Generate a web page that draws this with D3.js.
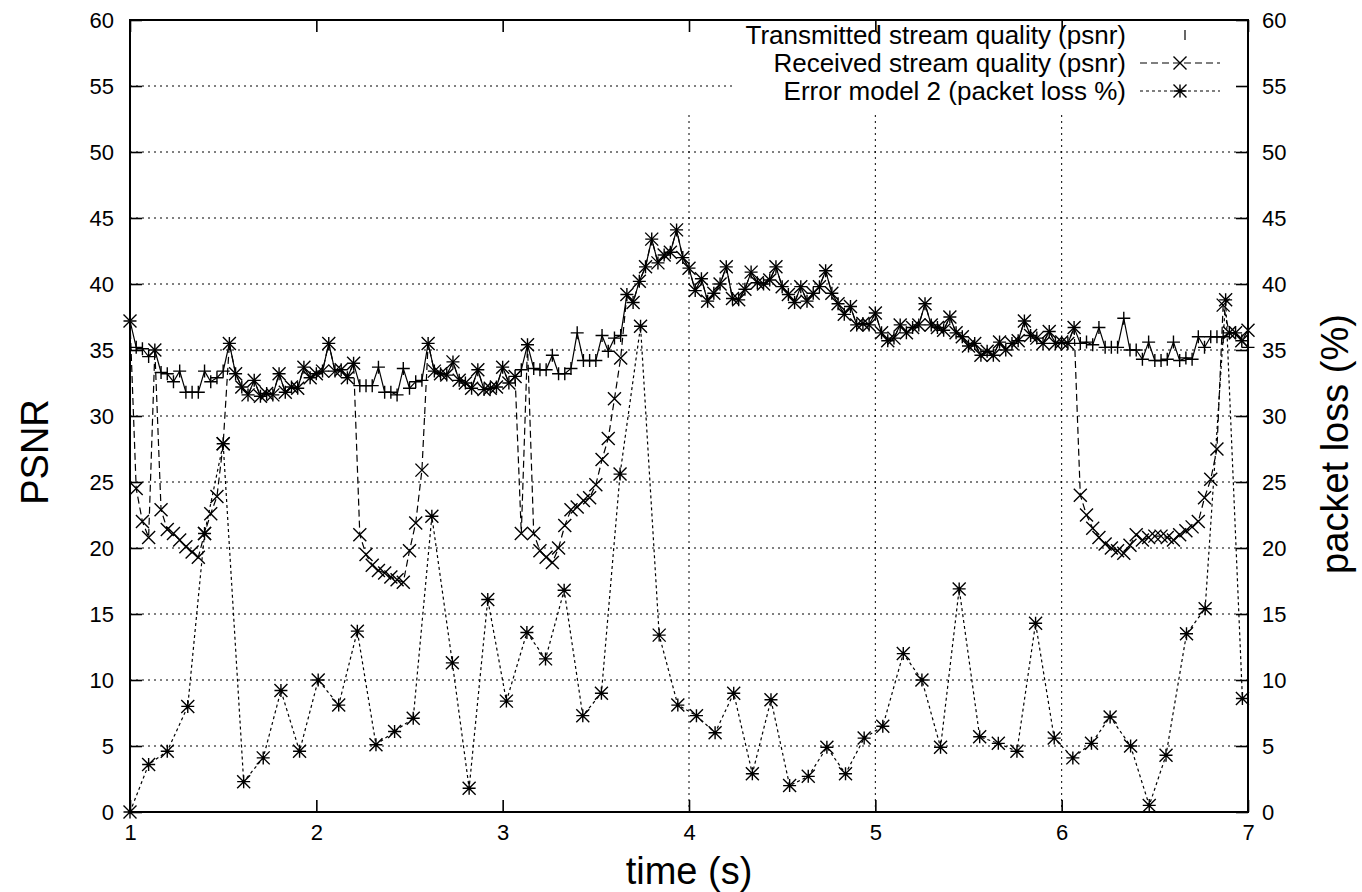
<!DOCTYPE html>
<html><head><meta charset="utf-8">
<script src="https://cdn.jsdelivr.net/npm/d3@7/dist/d3.min.js"></script>
<style>
body{margin:0;background:#fff}
svg text{font-family:"Liberation Sans",Arial,Helvetica,sans-serif;fill:#000}
</style>
</head><body>
<svg id="c" width="1362" height="892"></svg>
<script>
// ---------------- data ----------------
const xTicks = [1, 2, 3, 4, 5, 6, 7];
const yTicks = [0, 5, 10, 15, 20, 25, 30, 35, 40, 45, 50, 55, 60];
const gridX = [4, 5, 6];
const gridY = [5, 10, 15, 20, 25, 30, 35, 40, 45, 50, 55];
const frameStart = 1, frameRate = 30;   // one PSNR sample per frame (30 fps)

const txPsnr = [
 37.2,35.2,35.1,34.5,35.0,33.3,33.2,32.6,33.4,31.8,
 31.8,31.8,33.4,32.6,32.9,33.4,35.5,33.2,32.2,31.6,
 32.7,31.5,31.7,31.6,33.2,31.8,32.2,32.1,33.7,32.9,
 33.2,33.4,35.5,33.4,33.5,32.9,34.0,32.3,32.3,32.3,
 33.7,31.8,31.8,31.6,33.6,32.1,32.6,32.7,35.5,33.4,
 33.2,33.1,34.1,32.7,32.5,32.1,33.5,32.0,32.1,32.2,
 33.7,32.5,33.0,33.5,35.4,33.6,33.5,33.5,34.6,33.2,
 33.2,33.6,36.3,34.2,34.2,34.2,36.1,34.9,35.9,36.1,
 39.2,38.6,40.2,41.3,43.4,41.6,42.2,42.4,44.1,42.0,
 41.2,39.5,40.4,38.7,39.3,40.0,41.3,38.9,38.8,39.6,
 40.9,40.1,40.0,40.3,41.3,39.8,39.2,38.6,39.8,38.7,
 39.3,39.8,41.0,39.3,38.5,37.7,38.3,36.9,37.0,36.9,
 37.8,36.3,35.7,35.9,36.9,36.3,36.7,36.9,38.5,36.9,
 36.7,36.5,37.5,36.3,36.0,35.3,35.5,34.6,34.9,34.6,
 35.6,35.0,35.5,35.7,37.2,36.1,35.9,35.5,36.4,35.5,
 35.6,35.5,36.7,35.5,35.6,35.4,36.7,35.2,35.2,35.2,
 37.4,35.0,35.0,34.3,35.6,34.2,34.2,34.3,35.6,34.2,
 34.4,34.3,36.0,35.2,36.0,36.0,36.0,36.3,36.3,35.7,
 35.2
];

const rxPsnr = [
 37.2,24.5,22.0,20.8,35.0,22.9,21.4,21.1,20.6,20.1,
 19.7,19.3,21.1,22.6,23.9,27.9,35.5,33.2,32.2,31.6,
 32.7,31.5,31.7,31.6,33.2,31.8,32.2,32.1,33.7,32.9,
 33.2,33.4,35.5,33.4,33.5,32.9,34.0,21.0,19.5,18.7,
 18.3,18.1,17.8,17.6,17.4,19.8,21.9,25.9,35.5,33.4,
 33.2,33.1,34.1,32.7,32.5,32.1,33.5,32.0,32.1,32.2,
 33.7,32.5,33.0,21.1,35.4,21.1,19.8,19.3,18.9,20.0,
 21.7,22.9,23.1,23.6,23.8,24.8,26.7,28.3,31.3,34.4,
 39.2,38.6,40.2,41.3,43.4,41.6,42.2,42.4,44.1,42.0,
 41.2,39.5,40.4,38.7,39.3,40.0,41.3,38.9,38.8,39.6,
 40.9,40.1,40.0,40.3,41.3,39.8,39.2,38.6,39.8,38.7,
 39.3,39.8,41.0,39.3,38.5,37.7,38.3,36.9,37.0,36.9,
 37.8,36.3,35.7,35.9,36.9,36.3,36.7,36.9,38.5,36.9,
 36.7,36.5,37.5,36.3,36.0,35.3,35.5,34.6,34.9,34.6,
 35.6,35.0,35.5,35.7,37.2,36.1,35.9,35.5,36.4,35.5,
 35.6,35.5,36.7,24.0,22.5,21.5,20.8,20.3,20.0,19.8,
 19.6,20.2,21.0,20.6,20.8,20.9,20.9,20.8,20.6,21.0,
 21.3,21.6,22.0,23.8,25.2,27.5,38.4,36.3,36.3,35.7,
 36.5
];

const lossTime = [
 1.00,1.10,1.20,1.31,1.40,1.50,1.61,1.715,1.81,1.91,
 2.01,2.12,2.22,2.32,2.42,2.52,2.62,2.73,2.82,2.92,
 3.02,3.13,3.23,3.33,3.43,3.53,3.63,3.74,3.84,3.94,
 4.04,4.14,4.24,4.34,4.44,4.54,4.64,4.74,4.84,4.94,
 5.04,5.15,5.25,5.35,5.45,5.56,5.66,5.76,5.86,5.96,
 6.06,6.16,6.26,6.37,6.47,6.56,6.67,6.77,6.88,6.97
];
const lossPct = [
 0.0,3.6,4.6,8.0,21.1,27.9,2.3,4.1,9.2,4.6,
 10.0,8.1,13.7,5.1,6.1,7.1,22.4,11.3,1.8,16.1,
 8.4,13.6,11.6,16.8,7.3,9.0,25.6,36.8,13.4,8.1,
 7.3,6.0,9.0,2.9,8.5,2.0,2.7,4.9,2.9,5.6,
 6.5,12.0,10.0,4.9,16.9,5.7,5.2,4.6,14.3,5.6,
 4.1,5.2,7.2,5.0,0.5,4.3,13.5,15.4,38.8,8.6
];

const legendLabels = [
 "Transmitted stream quality (psnr)",
 "Received stream quality (psnr)",
 "Error model 2 (packet loss %)"
];

// ---------------- chart ----------------
const svg = d3.select("#c");
const L = 130, R = 1248, T = 20, B = 812;
const x = d3.scaleLinear().domain([1, 7]).range([L, R]);
const y = d3.scaleLinear().domain([0, 60]).range([B, T]);
const y2 = d3.scaleLinear().domain([0, 60]).range([B, T]);

svg.append("rect").attr("width", 1362).attr("height", 892).attr("fill", "#fff");

const grid = svg.append("g").attr("stroke", "#000").attr("stroke-width", 1)
  .attr("stroke-dasharray", "2,4").attr("fill", "none");
grid.selectAll("line.h").data(gridY).join("line").attr("class", "h")
  .attr("x1", L).attr("x2", R).attr("y1", d => y(d)).attr("y2", d => y(d));
grid.selectAll("line.v").data(gridX).join("line").attr("class", "v")
  .attr("x1", d => x(d)).attr("x2", d => x(d)).attr("y1", 115).attr("y2", B);

// symbols
const s = 6.5;
const plusPath = `M${-s},0H${s}M0,${-s}V${s}`;
const crossPath = `M${-s},${-s}L${s},${s}M${-s},${s}L${s},${-s}`;
const starPath = plusPath + crossPath;

const tx = txPsnr.map((v, i) => [frameStart + i / frameRate, v]);
const rx = rxPsnr.map((v, i) => [frameStart + i / frameRate, v]);
const loss = lossTime.map((t, i) => [t, lossPct[i]]);

const line = d3.line().x(d => x(d[0])).y(d => y(d[1]));
const line2 = d3.line().x(d => x(d[0])).y(d => y2(d[1]));

function drawSeries(data, gen, yy, dash, sym) {
  const g = svg.append("g");
  g.append("path").datum(data).attr("d", gen).attr("fill", "none")
    .attr("stroke", "#000").attr("stroke-width", 1.2)
    .attr("stroke-dasharray", dash);
  g.selectAll("path.m").data(data).join("path").attr("class", "m")
    .attr("d", sym).attr("fill", "none").attr("stroke", "#000").attr("stroke-width", 1.4)
    .attr("transform", d => `translate(${x(d[0])},${yy(d[1])})`);
}
drawSeries(tx, line, y, null, plusPath);
drawSeries(rx, line, y, "7,4", crossPath);
drawSeries(loss, line2, y2, "3,3", starPath);

// legend (opaque box)
svg.append("rect").attr("x", 735).attr("y", T + 1).attr("width", R - 736).attr("height", 94)
  .attr("fill", "#fff");
const legY = [35, 63, 91];
const lg = svg.append("g");
lg.selectAll("text").data(legendLabels).join("text")
  .attr("x", 1126).attr("y", (d, i) => legY[i]).attr("dy", "0.35em")
  .attr("text-anchor", "end").style("font-size", "26px").text(d => d);
lg.append("line").attr("x1", 1185).attr("x2", 1185).attr("y1", legY[0] - 5).attr("y2", legY[0] + 5)
  .attr("stroke", "#000").attr("stroke-width", 1.2);
[[1, "7,4", crossPath], [2, "3,3", starPath]].forEach(([i, dash, sym]) => {
  lg.append("line").attr("x1", 1140).attr("x2", 1220).attr("y1", legY[i]).attr("y2", legY[i])
    .attr("stroke", "#000").attr("stroke-width", 1.2).attr("stroke-dasharray", dash);
  lg.append("path").attr("d", sym).attr("transform", `translate(1180,${legY[i]})`)
    .attr("fill", "none").attr("stroke", "#000").attr("stroke-width", 1.4);
});

// axes
function styleAxis(g) {
  g.select(".domain").remove();
  g.selectAll(".tick line").attr("stroke", "#000").attr("stroke-width", 1.6);
  g.selectAll(".tick text").style("font-size", "22px")
    .style("font-family", '"Liberation Sans",Arial,sans-serif').attr("fill", "#000");
}
svg.append("g").attr("transform", `translate(${L},0)`)
  .call(d3.axisLeft(y).tickValues(yTicks).tickSize(-12).tickPadding(16).tickFormat(d3.format("d")))
  .call(styleAxis);
svg.append("g").attr("transform", `translate(${R},0)`)
  .call(d3.axisRight(y2).tickValues(yTicks).tickSize(-12).tickPadding(14).tickFormat(d3.format("d")))
  .call(styleAxis);
svg.append("g").attr("transform", `translate(0,${B})`)
  .call(d3.axisBottom(x).tickValues(xTicks).tickSize(-12).tickPadding(12).tickFormat(d3.format("d")))
  .call(styleAxis);
svg.append("g").attr("transform", `translate(0,${T})`)
  .call(d3.axisTop(x).tickValues(xTicks).tickSize(-12).tickFormat(""))
  .call(styleAxis);

svg.append("rect").attr("x", L).attr("y", T).attr("width", R - L).attr("height", B - T)
  .attr("fill", "none").attr("stroke", "#000").attr("stroke-width", 2);

// titles
svg.append("text").attr("transform", "translate(48,452) rotate(-90)")
  .attr("text-anchor", "middle").style("font-size", "38px").text("PSNR");
svg.append("text").attr("transform", "translate(1348,444) rotate(-90)")
  .attr("text-anchor", "middle").style("font-size", "38px").text("packet loss (%)");
svg.append("text").attr("x", 689).attr("y", 884)
  .attr("text-anchor", "middle").style("font-size", "38px").text("time (s)");
</script>
</body></html>
